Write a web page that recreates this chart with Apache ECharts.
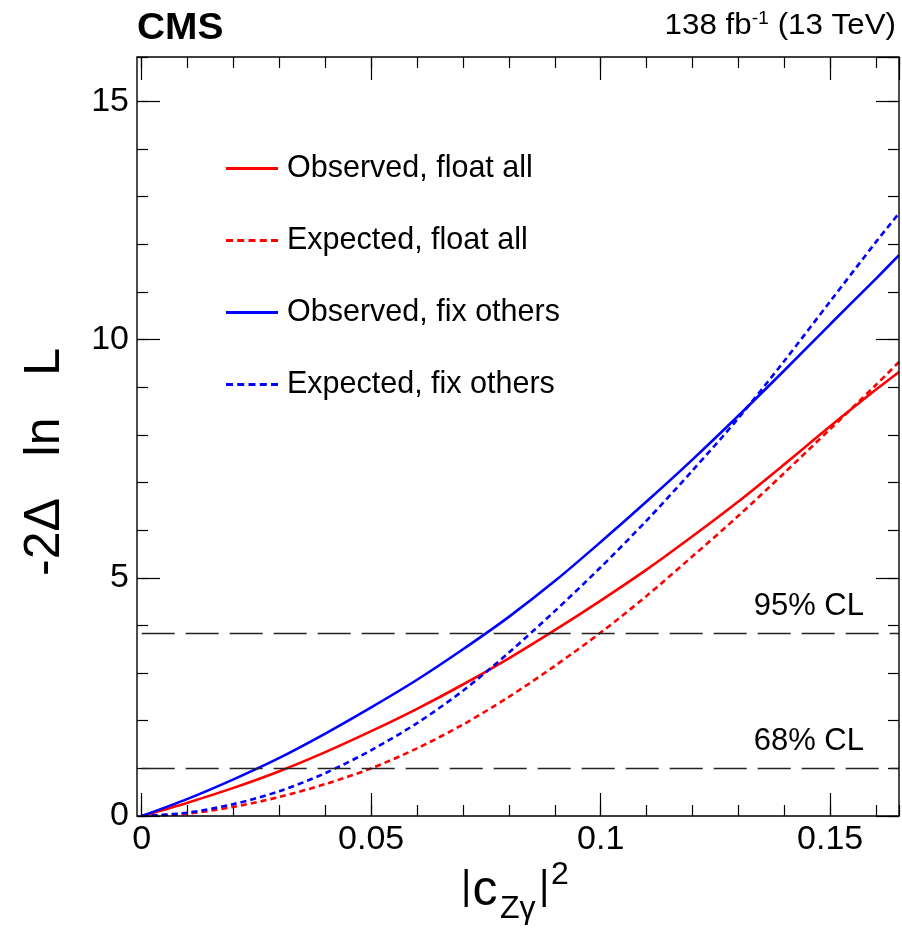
<!DOCTYPE html>
<html><head><meta charset="utf-8">
<script src="https://cdn.jsdelivr.net/npm/echarts@6/dist/echarts.min.js"></script>
<style>html,body{margin:0;padding:0;background:#fff}#c{width:902px;height:930px}</style>
</head><body><div id="c"></div>
<script>
// |c_Zgamma|^2 scan points
const xValues = [0, 0.01, 0.02, 0.03, 0.04, 0.05, 0.06, 0.07, 0.08, 0.09, 0.10, 0.11, 0.12, 0.13, 0.14, 0.15, 0.16, 0.165];
const obsFloatAll  = [0, 0.28, 0.59, 0.94, 1.34, 1.78, 2.25, 2.76, 3.31, 3.90, 4.52, 5.17, 5.87, 6.60, 7.38, 8.18, 8.95, 9.32];
const expFloatAll  = [0, 0.05, 0.19, 0.40, 0.67, 1.00, 1.42, 1.92, 2.50, 3.15, 3.85, 4.62, 5.45, 6.30, 7.20, 8.12, 9.05, 9.53];
const obsFixOthers = [0, 0.36, 0.77, 1.22, 1.73, 2.28, 2.86, 3.50, 4.18, 4.93, 5.75, 6.60, 7.48, 8.40, 9.35, 10.32, 11.28, 11.77];
const expFixOthers = [0, 0.07, 0.25, 0.52, 0.90, 1.38, 1.95, 2.63, 3.43, 4.30, 5.22, 6.20, 7.25, 8.35, 9.55, 10.80, 12.05, 12.65];
const seriesNames = ['Observed, float all', 'Expected, float all', 'Observed, fix others', 'Expected, fix others'];
const clNames = ['95% CL', '68% CL'];
const clValues = [3.84, 1.0];
const xRange = [0, 0.165];
const yRange = [0, 15.93];

const FONT = '"Liberation Sans", Arial, Helvetica, sans-serif';
const pair = arr => xValues.map((x, i) => [x, arr[i]]);
const dashIcon = 'path://M0,0h7v3h-7zM11.25,0h7v3h-7zM22.5,0h7v3h-7zM33.75,0h7v3h-7zM45,0h7v3h-7z';

function xAx(grid, pos, interval, len, labels) {
  return {
    type: 'value', gridIndex: grid, position: pos, min: xRange[0], max: xRange[1], interval: interval,
    axisLine: { show: false, onZero: false }, splitLine: { show: false },
    axisTick: { show: true, inside: true, length: len, lineStyle: { color: '#000', width: 1.2 } },
    axisLabel: { show: labels, showMaxLabel: false, color: '#000', fontSize: 34, fontFamily: FONT, margin: 7 }
  };
}
function yAx(grid, pos, interval, len, labels, off) {
  return {
    type: 'value', gridIndex: grid, position: pos, offset: off, min: yRange[0], max: yRange[1], interval: interval,
    axisLine: { show: false, onZero: false }, splitLine: { show: false },
    axisTick: { show: true, inside: true, length: len, lineStyle: { color: '#000', width: 1.2 } },
    axisLabel: { show: labels, showMaxLabel: false, color: '#000', fontSize: 34, fontFamily: FONT, margin: 8 }
  };
}

const chart = echarts.init(document.getElementById('c'), null, { renderer: 'canvas' });
const lineSeries = (name, data, color, dashed) => ({
  name: name, type: 'line', data: pair(data), xAxisIndex: 0, yAxisIndex: 0,
  symbol: 'none', showSymbol: false, smooth: 0.3, silent: true,
  lineStyle: { color: color, width: 2.6, type: dashed ? [6, 4] : 'solid' },
  itemStyle: { color: color }
});

const s0 = lineSeries(seriesNames[0], obsFloatAll, '#ff0000', false);
s0.markLine = {
  silent: true, symbol: ['none', 'none'], animation: false,
  lineStyle: { color: '#222', width: 1.4, type: [33, 11] },
  label: { show: true, position: 'insideEndTop', formatter: '{b}', color: '#000', fontSize: 31, fontFamily: FONT, distance: 11, padding: [0, 24, 0, 0] },
  data: clValues.map((v, i) => ({ name: clNames[i], yAxis: v }))
};

const gridBox = { left: 141.7, right: 3, top: 57, bottom: 114, containLabel: false, outerBoundsMode: 'none' };
const T = (x, y, text, size, extra) => Object.assign({ type: 'text', x: x, y: y, style: { text: text, fontSize: size, fontFamily: FONT, fill: '#000', align: 'left', verticalAlign: 'middle' } }, extra || {});

chart.setOption({
  animation: false,
  backgroundColor: '#fff',
  grid: [Object.assign({}, gridBox), Object.assign({}, gridBox)],
  xAxis: [xAx(0, 'bottom', 0.05, 23, true), xAx(0, 'top', 0.05, 23, false), xAx(1, 'bottom', 0.01, 11, false), xAx(1, 'top', 0.01, 11, false)],
  yAxis: [yAx(0, 'left', 5, 23, true, 4.7), yAx(0, 'right', 5, 23, false, 0), yAx(1, 'left', 1, 11, false, 4.7), yAx(1, 'right', 1, 11, false, 0)],
  legend: {
    orient: 'vertical', left: 226, top: 153, padding: 0, itemGap: 41, itemWidth: 52, itemHeight: 3,
    selectedMode: false,
    textStyle: { color: '#000', fontSize: 30.5, fontFamily: FONT, lineHeight: 30, padding: [0, 0, 0, 4] },
    data: [
      { name: seriesNames[0], icon: 'rect' },
      { name: seriesNames[1], icon: dashIcon },
      { name: seriesNames[2], icon: 'rect' },
      { name: seriesNames[3], icon: dashIcon }
    ]
  },
  graphic: [
    { type: 'rect', shape: { x: 137, y: 57, width: 762, height: 759 }, style: { fill: 'none', stroke: '#000', lineWidth: 1.4 }, silent: true, z: 10 },
    { type: 'text', x: 137, y: 29, scaleX: 1.08, style: { text: 'CMS', font: 'bold 36px ' + FONT, fill: '#000', align: 'left', verticalAlign: 'middle' } },
    { type: 'text', x: 896, y: 26, scaleX: 1.08, style: {
        text: '{a|138 fb}{s|-1}{a| (13 TeV)}', align: 'right', verticalAlign: 'middle', fill: '#000',
        rich: { a: { fontSize: 29, fontFamily: FONT, fill: '#000' }, s: { fontSize: 18, fontFamily: FONT, fill: '#000', padding: [0, 0, 14, 0] } } } },
    { type: 'text', x: 45, y: 462, rotation: Math.PI / 2, style: { text: '-2\u0394   ln   L', fontSize: 50, fontFamily: FONT, fill: '#000', align: 'center', verticalAlign: 'middle' } },
    T(461, 888, '|', 40),
    T(472.5, 891, 'c', 50),
    T(500, 909, 'Z\u03b3', 32),
    T(539, 888, '|', 40),
    T(551, 875.6, '2', 32)
  ],
  series: [
    s0,
    lineSeries(seriesNames[1], expFloatAll, '#ff0000', true),
    lineSeries(seriesNames[2], obsFixOthers, '#0000ff', false),
    lineSeries(seriesNames[3], expFixOthers, '#0000ff', true)
  ]
});
</script></body></html>
